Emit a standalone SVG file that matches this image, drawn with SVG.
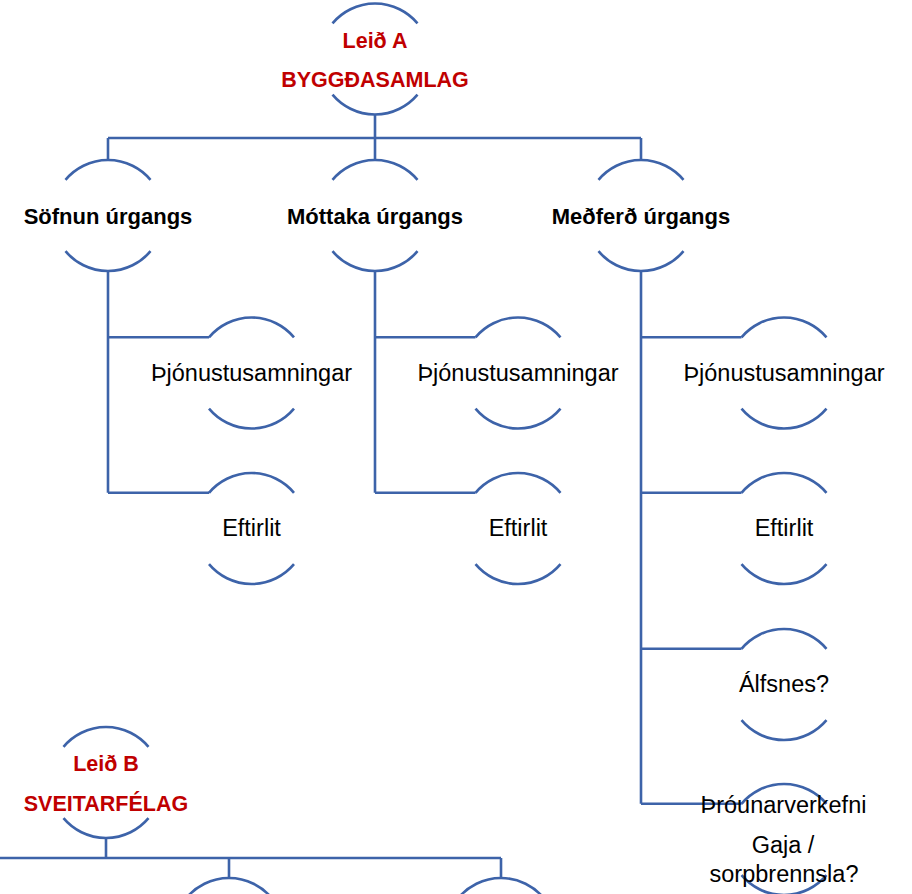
<svg xmlns="http://www.w3.org/2000/svg" xmlns:xlink="http://www.w3.org/1999/xlink" width="912" height="894" viewBox="0 0 912 894">
<style>
.ln{fill:none;stroke:#3D63A9;stroke-width:2.6}
.t1{font-family:"Liberation Sans",Arial,sans-serif;font-weight:bold;font-size:21.5px;fill:#C00000;text-anchor:middle}
.t2{font-family:"Liberation Sans",Arial,sans-serif;font-weight:bold;font-size:22px;fill:#000;text-anchor:middle}
.t3{font-family:"Liberation Sans",Arial,sans-serif;font-size:23.5px;fill:#000;text-anchor:middle}
</style>
<defs>
<path id="ring" class="ln" d="M-42.5,-35.7 A55.5,55.5 0 0 1 42.5,-35.7 M-42.5,35.7 A55.5,55.5 0 0 0 42.5,35.7"/>
</defs>
<rect width="912" height="894" fill="#fff"/>
<g id="connectors" class="ln">
<path d="M375,114.5 V138 M108,138 H641 M108,138 V160 M375,138 V160 M641,138 V160"/>
<path d="M108,271 V492.8 M108,337.3 H209 M108,492.8 H209"/>
<path d="M375,271 V492.8 M375,337.3 H475.5 M375,492.8 H475.5"/>
<path d="M641,271 V803.8 M641,337.3 H741.5 M641,492.8 H741.5 M641,648.8 H741.5 M641,803.8 H741.5"/>
<path d="M106,838 V858 M0,858 H501 M229,858 V878 M501,858 V878"/>
</g>
<g id="leidA">
<use xlink:href="#ring" x="375" y="59"/>
<text class="t1" x="375" y="48">Leið A</text>
<text class="t1" x="375" y="87">BYGGÐASAMLAG</text>
</g>
<g id="sofnun">
<use xlink:href="#ring" x="108" y="215.5"/>
<text class="t2" x="108" y="224">Söfnun úrgangs</text>
</g>
<g id="mottaka">
<use xlink:href="#ring" x="375" y="215.5"/>
<text class="t2" x="375" y="224">Móttaka úrgangs</text>
</g>
<g id="medferd">
<use xlink:href="#ring" x="641" y="215.5"/>
<text class="t2" x="641" y="224">Meðferð úrgangs</text>
</g>
<g id="sofnun-thjon">
<use xlink:href="#ring" x="251.5" y="373"/>
<text class="t3" x="251.5" y="380.5">Þjónustusamningar</text>
</g>
<g id="sofnun-eftirlit">
<use xlink:href="#ring" x="251.5" y="528.5"/>
<text class="t3" x="251.5" y="536">Eftirlit</text>
</g>
<g id="mottaka-thjon">
<use xlink:href="#ring" x="518" y="373"/>
<text class="t3" x="518" y="380.5">Þjónustusamningar</text>
</g>
<g id="mottaka-eftirlit">
<use xlink:href="#ring" x="518" y="528.5"/>
<text class="t3" x="518" y="536">Eftirlit</text>
</g>
<g id="medferd-thjon">
<use xlink:href="#ring" x="784" y="373"/>
<text class="t3" x="784" y="380.5">Þjónustusamningar</text>
</g>
<g id="medferd-eftirlit">
<use xlink:href="#ring" x="784" y="528.5"/>
<text class="t3" x="784" y="536">Eftirlit</text>
</g>
<g id="alfsnes">
<use xlink:href="#ring" x="784" y="684.5"/>
<text class="t3" x="784" y="692">Álfsnes?</text>
</g>
<g id="throun">
<use xlink:href="#ring" x="784" y="839.5"/>
<text class="t3" x="783.5" y="813">Þróunarverkefni</text>
<text class="t3" x="783" y="853">Gaja /</text>
<text class="t3" x="784" y="882">sorpbrennsla?</text>
</g>
<g id="leidB">
<use xlink:href="#ring" x="106" y="782.5"/>
<text class="t1" x="106" y="771">Leið B</text>
<text class="t1" x="106" y="811">SVEITARFÉLAG</text>
</g>
<g id="b-child1">
<use xlink:href="#ring" x="229" y="933.5"/>
</g>
<g id="b-child2">
<use xlink:href="#ring" x="501" y="933.5"/>
</g>
</svg>
